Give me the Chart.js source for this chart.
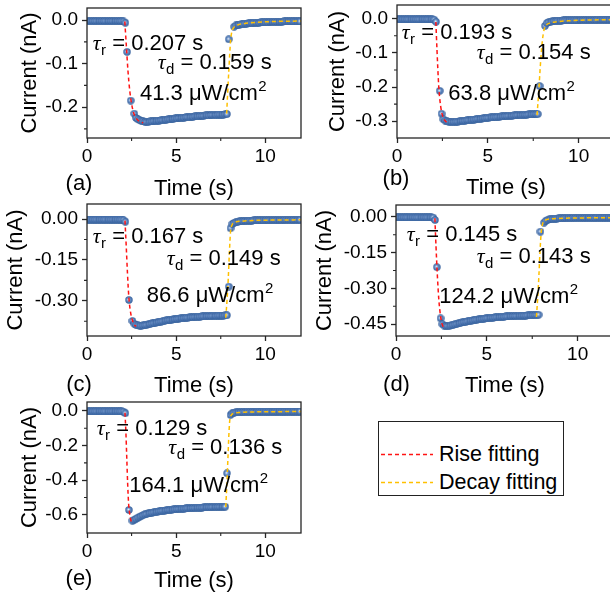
<!DOCTYPE html>
<html><head><meta charset="utf-8">
<script src="https://cdn.jsdelivr.net/npm/chart.js@4.4.1/dist/chart.umd.min.js"></script>
<style>
html,body{margin:0;padding:0;background:#fff;overflow:hidden;width:610px;height:596px;}
canvas{position:absolute;}
#legend{position:absolute;left:378px;top:421px;width:184px;height:73px;border:1px solid #222;font-family:"Liberation Sans",Arial,sans-serif;font-size:21.5px;color:#000;}
#legend .row{position:absolute;left:2px;height:26px;line-height:26px;white-space:nowrap;}
#legend svg{position:absolute;left:0;top:12px;}
#legend span{position:absolute;left:58px;top:0;}
</style></head><body>
<canvas id="pa"></canvas><canvas id="pb"></canvas><canvas id="pc"></canvas><canvas id="pd"></canvas><canvas id="pe"></canvas>
<div id="legend"></div>
<script>
// ---------- data ----------
const times = [
0.05,0.15,0.25,0.35,0.45,0.55,0.65,0.75,0.85,0.95,
1.05,1.15,1.25,1.35,1.45,1.55,1.65,1.75,1.85,1.95,
2.05,2.15,2.25,2.35,2.45,2.55,2.65,2.75,2.85,2.95,
3.05,3.15,3.25,3.35,3.45,3.55,3.65,3.75,3.85,3.95,
4.05,4.15,4.25,4.35,4.45,4.55,4.65,4.75,4.85,4.95,
5.05,5.15,5.25,5.35,5.45,5.55,5.65,5.75,5.85,5.95,
6.05,6.15,6.25,6.35,6.45,6.55,6.65,6.75,6.85,6.95,
7.05,7.15,7.25,7.35,7.45,7.55,7.65,7.75,7.85,7.95,
8.05,8.15,8.25,8.35,8.45,8.55,8.65,8.75,8.85,8.95,
9.05,9.15,9.25,9.35,9.45,9.55,9.65,9.75,9.85,9.95,
10.05,10.15,10.25,10.35,10.45,10.55,10.65,10.75,10.85,10.95,
11.05,11.15,11.25,11.35,11.45,11.55,11.65,11.75,11.85,11.95];

const currentA = [
-0.002,-0.002,-0.002,-0.002,-0.002,-0.002,-0.002,-0.002,-0.002,-0.002,
-0.002,-0.002,-0.002,-0.002,-0.002,-0.002,-0.002,-0.002,-0.002,-0.002,
-0.003,-0.006,-0.073,null,-0.185,null,-0.215,-0.225,-0.228,-0.230,
-0.232,-0.233,-0.234,-0.234,-0.234,-0.233,-0.233,-0.232,-0.232,-0.231,
-0.231,-0.230,-0.230,-0.229,-0.229,-0.228,-0.228,-0.227,-0.227,-0.226,
-0.226,-0.225,-0.225,-0.224,-0.224,-0.223,-0.223,-0.223,-0.222,-0.222,
-0.221,-0.221,-0.221,-0.220,-0.220,-0.220,-0.219,-0.219,-0.219,-0.218,
-0.218,-0.218,-0.218,-0.217,-0.217,-0.217,-0.217,-0.216,-0.216,-0.044,
null,null,-0.015,-0.012,-0.011,-0.010,-0.009,-0.009,-0.008,-0.008,
-0.007,-0.007,-0.007,-0.006,-0.006,-0.006,-0.006,-0.005,-0.005,-0.005,
-0.005,-0.005,-0.004,-0.004,-0.004,-0.004,-0.004,-0.004,-0.004,-0.004,
-0.003,-0.003,-0.003,-0.003,-0.003,-0.003,-0.003,-0.003,-0.003,-0.003];

const currentB = [
-0.002,-0.002,-0.002,-0.002,-0.002,-0.002,-0.002,-0.002,-0.002,-0.002,
-0.002,-0.002,-0.002,-0.002,-0.002,-0.002,-0.002,-0.002,-0.002,-0.002,
-0.003,-0.009,null,-0.211,-0.278,-0.294,-0.298,-0.300,-0.301,-0.302,
-0.302,-0.302,-0.301,-0.301,-0.300,-0.299,-0.299,-0.298,-0.297,-0.297,
-0.296,-0.295,-0.295,-0.294,-0.293,-0.293,-0.292,-0.291,-0.291,-0.290,
-0.290,-0.289,-0.289,-0.288,-0.288,-0.287,-0.287,-0.286,-0.286,-0.285,
-0.285,-0.284,-0.284,-0.284,-0.283,-0.283,-0.282,-0.282,-0.282,-0.281,
-0.281,-0.281,-0.280,-0.280,-0.280,-0.279,-0.279,-0.279,-0.197,null,
null,-0.021,-0.013,-0.010,-0.009,-0.008,-0.007,-0.007,-0.006,-0.006,
-0.006,-0.005,-0.005,-0.005,-0.005,-0.005,-0.005,-0.005,-0.005,-0.005,
-0.004,-0.004,-0.004,-0.004,-0.004,-0.004,-0.004,-0.004,-0.004,-0.004,
-0.003,-0.003,-0.003,-0.003,-0.003,-0.003,-0.003,-0.003,-0.003,-0.003];

const currentC = [
-0.002,-0.002,-0.002,-0.002,-0.002,-0.002,-0.002,-0.002,-0.002,-0.002,
-0.002,-0.002,-0.002,-0.002,-0.002,-0.002,-0.002,-0.002,-0.002,-0.002,
-0.004,-0.010,null,-0.297,null,-0.374,-0.384,-0.388,-0.390,-0.391,
-0.391,-0.390,-0.389,-0.388,-0.386,-0.385,-0.383,-0.382,-0.380,-0.379,
-0.377,-0.376,-0.375,-0.373,-0.372,-0.371,-0.370,-0.369,-0.368,-0.367,
-0.366,-0.365,-0.364,-0.364,-0.363,-0.362,-0.362,-0.361,-0.360,-0.360,
-0.359,-0.359,-0.358,-0.358,-0.357,-0.357,-0.357,-0.356,-0.356,-0.356,
-0.355,-0.355,-0.355,-0.354,-0.354,-0.354,-0.354,-0.353,-0.353,-0.248,
-0.034,-0.018,-0.014,-0.012,-0.010,-0.009,-0.008,-0.008,-0.007,-0.007,
-0.006,-0.006,-0.006,-0.005,-0.005,-0.005,-0.005,-0.005,-0.005,-0.005,
-0.004,-0.004,-0.004,-0.004,-0.004,-0.004,-0.004,-0.004,-0.004,-0.004,
-0.003,-0.003,-0.003,-0.003,-0.003,-0.003,-0.003,-0.003,-0.003,-0.003];

const currentD = [
-0.002,-0.002,-0.002,-0.002,-0.002,-0.002,-0.002,-0.002,-0.002,-0.002,
-0.002,-0.002,-0.002,-0.002,-0.002,-0.002,-0.002,-0.002,-0.002,-0.002,
-0.003,-0.013,-0.211,null,-0.426,-0.450,-0.456,-0.458,-0.458,-0.457,
-0.455,-0.453,-0.451,-0.449,-0.447,-0.445,-0.443,-0.441,-0.440,-0.438,
-0.436,-0.435,-0.434,-0.432,-0.431,-0.430,-0.429,-0.428,-0.427,-0.426,
-0.425,-0.424,-0.423,-0.423,-0.422,-0.421,-0.421,-0.420,-0.419,-0.419,
-0.418,-0.418,-0.417,-0.417,-0.416,-0.416,-0.416,-0.415,-0.415,-0.414,
-0.414,-0.414,-0.413,-0.413,-0.413,-0.412,-0.412,-0.412,-0.411,-0.062,
null,-0.024,-0.016,-0.012,-0.010,-0.009,-0.008,-0.007,-0.007,-0.006,
-0.006,-0.006,-0.005,-0.005,-0.005,-0.005,-0.005,-0.004,-0.004,-0.004,
-0.004,-0.004,-0.004,-0.004,-0.004,-0.004,-0.004,-0.004,-0.004,-0.004,
-0.003,-0.003,-0.003,-0.003,-0.003,-0.003,-0.003,-0.003,-0.003,-0.003];

const currentE = [
-0.002,-0.002,-0.002,-0.002,-0.002,-0.002,-0.002,-0.002,-0.002,-0.002,
-0.002,-0.002,-0.002,-0.002,-0.002,-0.002,-0.002,-0.002,-0.002,-0.002,
-0.004,-0.013,null,-0.572,null,-0.634,-0.628,-0.622,-0.616,-0.611,
-0.606,-0.602,-0.598,-0.595,-0.592,-0.589,-0.587,-0.585,-0.583,-0.581,
-0.579,-0.578,-0.576,-0.575,-0.573,-0.572,-0.571,-0.570,-0.569,-0.568,
-0.567,-0.566,-0.565,-0.564,-0.564,-0.563,-0.562,-0.562,-0.561,-0.560,
-0.560,-0.559,-0.559,-0.558,-0.558,-0.557,-0.557,-0.556,-0.556,-0.556,
-0.555,-0.555,-0.555,-0.554,-0.554,-0.554,-0.553,-0.553,-0.360,null,
-0.023,-0.012,-0.009,-0.008,-0.007,-0.007,-0.006,-0.006,-0.006,-0.005,
-0.005,-0.005,-0.005,-0.005,-0.005,-0.004,-0.004,-0.004,-0.004,-0.004,
-0.004,-0.004,-0.004,-0.004,-0.004,-0.003,-0.003,-0.003,-0.003,-0.003,
-0.003,-0.003,-0.003,-0.003,-0.003,-0.003,-0.003,-0.003,-0.003,-0.003];

// fitting curves [time, current]
const riseFitA  = [[2.12,-0.003],[2.2,-0.055],[2.3,-0.118],[2.4,-0.163],[2.5,-0.192],[2.6,-0.211],[2.7,-0.222],[2.85,-0.230],[3.0,-0.234],[3.15,-0.236]];
const decayFitA = [[7.83,-0.215],[7.95,-0.118],[8.05,-0.048],[8.12,-0.027],[8.25,-0.016],[8.45,-0.011],[8.8,-0.008],[9.5,-0.005],[10.5,-0.003],[12,-0.002]];
const riseFitB  = [[2.14,-0.010],[2.2,-0.09],[2.3,-0.200],[2.4,-0.255],[2.5,-0.282],[2.6,-0.295],[2.73,-0.303]];
const decayFitB = [[7.71,-0.282],[7.8,-0.215],[7.9,-0.130],[8.0,-0.065],[8.1,-0.032],[8.2,-0.020],[8.4,-0.013],[8.8,-0.009],[9.5,-0.006],[10.5,-0.004],[12,-0.003]];
const riseFitC  = [[2.13,-0.006],[2.2,-0.100],[2.27,-0.200],[2.35,-0.290],[2.45,-0.345],[2.55,-0.372],[2.65,-0.387],[2.75,-0.394]];
const decayFitC = [[7.78,-0.362],[7.85,-0.300],[7.92,-0.220],[7.98,-0.130],[8.05,-0.045],[8.12,-0.024],[8.3,-0.012],[8.7,-0.008],[9.5,-0.005],[10.5,-0.004],[12,-0.003]];
const riseFitD  = [[2.14,-0.006],[2.2,-0.120],[2.28,-0.250],[2.36,-0.350],[2.45,-0.415],[2.52,-0.445],[2.6,-0.462]];
const decayFitD = [[7.73,-0.420],[7.8,-0.340],[7.87,-0.240],[7.93,-0.140],[8.0,-0.060],[8.08,-0.027],[8.24,-0.013],[8.6,-0.008],[9.5,-0.005],[10.5,-0.004],[12,-0.003]];
const riseFitE  = [[2.13,-0.010],[2.18,-0.120],[2.23,-0.270],[2.28,-0.420],[2.33,-0.530],[2.4,-0.600],[2.47,-0.635],[2.55,-0.650]];
const decayFitE = [[7.78,-0.555],[7.84,-0.430],[7.9,-0.280],[7.95,-0.150],[8.0,-0.060],[8.08,-0.025],[8.25,-0.013],[8.6,-0.008],[9.5,-0.005],[10.5,-0.004],[12,-0.003]];

const tauRise  = ['0.207','0.193','0.167','0.145','0.129'];
const tauDecay = ['0.159','0.154','0.149','0.143','0.136'];
const powerDensity = ['41.3','63.8','86.6','124.2','164.1'];
const panelLetters = ['(a)','(b)','(c)','(d)','(e)'];
const seriesLabels = ['Rise fitting','Decay fitting'];

const xTicks = [0,5,10];
const xTickLabels = ['0','5','10'];
const xMinor = [2.5,7.5];
const yTicksA = [-0.2,-0.1,0], yLabelsA = ['-0.2','-0.1','0.0'], yMinorA = [-0.25,-0.15,-0.05];
const yTicksB = [-0.3,-0.2,-0.1,0], yLabelsB = ['-0.3','-0.2','-0.1','0.0'], yMinorB = [-0.25,-0.15,-0.05];
const yTicksC = [-0.3,-0.15,0], yLabelsC = ['-0.30','-0.15','0.00'], yMinorC = [-0.375,-0.225,-0.075];
const yTicksD = [-0.45,-0.3,-0.15,0], yLabelsD = ['-0.45','-0.30','-0.15','0.00'], yMinorD = [-0.375,-0.225,-0.075];
const yTicksE = [-0.6,-0.4,-0.2,0], yLabelsE = ['-0.6','-0.4','-0.2','0.0'], yMinorE = [-0.5,-0.3,-0.1];

// ---------- styling ----------
const FONT = '"Liberation Sans", Arial, sans-serif';
const AXIS = '#262626';
const RED = '#ff1414';
const YEL = '#ffc000';
const TITLE_SIZE = 22, TICK_SIZE = 19;

const marker = (() => {
  const c = document.createElement('canvas'); c.width = 8; c.height = 8;
  const g = c.getContext('2d');
  const gr = g.createRadialGradient(3.4,3.4,0.2,4,4,3.9);
  gr.addColorStop(0,'#e4edf8'); gr.addColorStop(0.4,'#6a90c8'); gr.addColorStop(1,'#2c5896');
  g.fillStyle = gr; g.beginPath(); g.arc(4,4,3.7,0,Math.PI*2); g.fill();
  return c;
})();

function framePlugin(cfg){
  return {
    id:'frame',
    afterDraw(chart){
      const {ctx, chartArea:a, scales} = chart;
      ctx.save();
      ctx.strokeStyle = AXIS; ctx.lineWidth = 1.3;
      ctx.strokeRect(a.left, a.top, a.right - a.left, a.bottom - a.top);
      ctx.lineWidth = 1.1;
      ctx.beginPath();
      cfg.yMinor.forEach(v => { const y = scales.y.getPixelForValue(v); ctx.moveTo(a.left-3, y); ctx.lineTo(a.left, y); });
      xMinor.forEach(v => { const x = scales.x.getPixelForValue(v); ctx.moveTo(x, a.bottom); ctx.lineTo(x, a.bottom+3); });
      ctx.stroke();
      // annotations
      const ox = cfg.cl, oy = cfg.ct;
      ctx.fillStyle = '#000'; ctx.textBaseline = 'alphabetic'; ctx.textAlign = 'left';
      const tau = (x, y, sub, val) => {
        ctx.font = 'italic 22px "Liberation Serif", "DejaVu Serif", serif';
        ctx.fillText('τ', x - ox, y - oy);
        let w = ctx.measureText('τ').width;
        ctx.font = '15px ' + FONT;
        ctx.fillText(sub, x - ox + w + 0.5, y - oy + 5);
        w += ctx.measureText(sub).width + 0.5;
        ctx.font = TITLE_SIZE + 'px ' + FONT;
        ctx.fillText(' = ' + val + ' s', x - ox + w, y - oy);
      };
      tau(cfg.annR[0], cfg.annR[1], 'r', tauRise[cfg.k]);
      tau(cfg.annD[0], cfg.annD[1], 'd', tauDecay[cfg.k]);
      ctx.font = TITLE_SIZE + 'px ' + FONT;
      const p = powerDensity[cfg.k] + ' μW/cm';
      ctx.fillText(p, cfg.annP[0] - ox, cfg.annP[1] - oy);
      const pw = ctx.measureText(p).width;
      ctx.font = '15px ' + FONT;
      ctx.fillText('2', cfg.annP[0] - ox + pw + 0.5, cfg.annP[1] - oy - 9);
      // panel letter
      ctx.font = TITLE_SIZE + 'px ' + FONT;
      ctx.textAlign = 'center'; ctx.textBaseline = 'middle';
      ctx.fillText(panelLetters[cfg.k], cfg.letter[0] - ox, cfg.letter[1] - oy);
      ctx.restore();
    }
  };
}

function makePanel(id, cfg){
  const cv = document.getElementById(id);
  cv.width = cfg.cw; cv.height = cfg.ch;
  cv.style.left = cfg.cl + 'px'; cv.style.top = cfg.ct + 'px';
  cv.style.width = cfg.cw + 'px'; cv.style.height = cfg.ch + 'px';
  const lh = TITLE_SIZE * 1.2;
  const yW = cfg.area.l - cfg.cl;
  const xH = cfg.ct + cfg.ch - cfg.area.b;
  const pts = times.map((t,i) => ({x:t, y:cfg.vals[i]})).filter(p => p.y !== null);
  const toXY = arr => arr.map(p => ({x:p[0], y:p[1]}));
  const lab = (arr, labels, v) => { const k = arr.findIndex(t => Math.abs(t - v) < 1e-9); return k < 0 ? '' : labels[k]; };
  new Chart(cv, {
    type:'scatter',
    data:{datasets:[
      {label:'Current', data:pts, pointStyle:marker, pointRadius:4, order:3},
      {type:'line', label:seriesLabels[0], data:toXY(cfg.rise), borderColor:RED, borderWidth:1.5, borderDash:[4,3], pointRadius:0, fill:false, cubicInterpolationMode:'monotone', order:1},
      {type:'line', label:seriesLabels[1], data:toXY(cfg.decay), borderColor:YEL, borderWidth:1.5, borderDash:[4,3], pointRadius:0, fill:false, cubicInterpolationMode:'monotone', order:2}
    ]},
    options:{
      responsive:false, animation:false, events:[], devicePixelRatio:1,
      layout:{padding:{left:0, top:cfg.area.t - cfg.ct, right:cfg.cl + cfg.cw - cfg.area.r, bottom:0}},
      plugins:{legend:{display:false}, tooltip:{enabled:false}},
      scales:{
        x:{type:'linear', position:'bottom', min:0, max:12,
          afterBuildTicks:s => { s.ticks = xTicks.map(v => ({value:v})); },
          afterFit:s => { s.height = xH; s.paddingLeft = 0; s.paddingRight = 0; s.paddingTop = 0; s.paddingBottom = 0; },
          ticks:{autoSkip:false, maxRotation:0, padding:2, color:'#000', font:{family:FONT, size:TICK_SIZE}, callback:v => lab(xTicks, xTickLabels, v)},
          grid:{display:true, drawOnChartArea:false, drawTicks:true, tickLength:5, tickColor:AXIS, tickWidth:1.3, color:AXIS},
          border:{display:false},
          title:{display:true, text:'Time (s)', color:'#000', font:{family:FONT, size:TITLE_SIZE}, padding:{top:0, bottom:cfg.ct + cfg.ch - cfg.xTitleY - lh/2}}
        },
        y:{type:'linear', position:'left', min:cfg.ymin, max:cfg.ymax,
          afterBuildTicks:s => { s.ticks = cfg.yTicks.map(v => ({value:v})); },
          afterFit:s => { s.width = yW; s.paddingLeft = 0; s.paddingRight = 0; s.paddingTop = 0; s.paddingBottom = 0; },
          ticks:{autoSkip:false, padding:4, color:'#000', font:{family:FONT, size:TICK_SIZE}, callback:v => lab(cfg.yTicks, cfg.yLabels, v)},
          grid:{display:true, drawOnChartArea:false, drawTicks:true, tickLength:5, tickColor:AXIS, tickWidth:1.3, color:AXIS},
          border:{display:false},
          title:{display:true, text:'Current (nA)', color:'#000', font:{family:FONT, size:TITLE_SIZE}, padding:{top:cfg.yTitleX - cfg.cl - lh/2, bottom:0}}
        }
      }
    },
    plugins:[framePlugin(cfg)]
  });
}

makePanel('pa', {k:0, cl:0, ct:0, cw:306, ch:206, area:{l:87,t:8,r:304,b:138}, ymin:-0.271, ymax:0.028,
  vals:currentA, rise:riseFitA, decay:decayFitA, yTicks:yTicksA, yLabels:yLabelsA, yMinor:yMinorA,
  yTitleX:29.5, xTitleY:189, annR:[92.7,50], annD:[157.7,69], annP:[140,100], letter:[79,184]});
makePanel('pb', {k:1, cl:306, ct:0, cw:314, ch:206, area:{l:397,t:2,r:615,b:138}, ymin:-0.349, ymax:0.040,
  vals:currentB, rise:riseFitB, decay:decayFitB, yTicks:yTicksB, yLabels:yLabelsB, yMinor:yMinorB,
  yTitleX:338, xTitleY:188, annR:[401.7,39], annD:[476.7,59.3], annP:[448.3,100], letter:[396,179]});
makePanel('pc', {k:2, cl:0, ct:198, cw:306, ch:206, area:{l:87,t:204,r:304,b:336}, ymin:-0.429, ymax:0.055,
  vals:currentC, rise:riseFitC, decay:decayFitC, yTicks:yTicksC, yLabels:yLabelsC, yMinor:yMinorC,
  yTitleX:15.5, xTitleY:386, annR:[92.7,242.7], annD:[166.7,265], annP:[146.7,301.7], letter:[79,385]});
makePanel('pd', {k:3, cl:306, ct:198, cw:314, ch:206, area:{l:396,t:205,r:614,b:336}, ymin:-0.500, ymax:0.050,
  vals:currentD, rise:riseFitD, decay:decayFitD, yTicks:yTicksD, yLabels:yLabelsD, yMinor:yMinorD,
  yTitleX:325, xTitleY:386, annR:[406.7,240.7], annD:[476.7,262.7], annP:[439.3,303.3], letter:[396.5,385]});
makePanel('pe', {k:4, cl:0, ct:396, cw:306, ch:200, area:{l:87,t:402,r:304,b:533}, ymin:-0.705, ymax:0.052,
  vals:currentE, rise:riseFitE, decay:decayFitE, yTicks:yTicksE, yLabels:yLabelsE, yMinor:yMinorE,
  yTitleX:30, xTitleY:581, annR:[96.7,435], annD:[168.3,454.3], annP:[129.3,491.7], letter:[79,579]});

// ---------- shared legend ----------
const legend = document.getElementById('legend');
[[seriesLabels[0], RED, 19], [seriesLabels[1], YEL, 47]].forEach(([text, color, top]) => {
  const row = document.createElement('div');
  row.className = 'row'; row.style.top = top + 'px'; row.style.width = '180px';
  row.innerHTML = '<svg width="52" height="3"><line x1="0" y1="1.5" x2="52" y2="1.5" stroke="' + color + '" stroke-width="1.5" stroke-dasharray="4,3"/></svg><span></span>';
  row.querySelector('span').textContent = text;
  legend.appendChild(row);
});
</script>
</body></html>
